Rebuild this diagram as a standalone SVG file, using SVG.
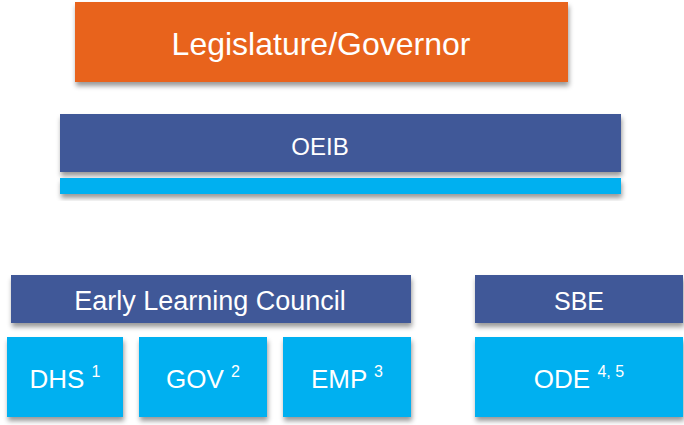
<svg xmlns="http://www.w3.org/2000/svg" width="684" height="425" viewBox="0 0 684 425">
<defs>
<filter id="sh" x="-10%" y="-20%" width="120%" height="160%">
<feDropShadow dx="1" dy="4" stdDeviation="2.5" flood-color="#000" flood-opacity="0.4"/>
</filter>
<style>
.t{font-family:"Liberation Sans",Arial,sans-serif;fill:#fff;text-anchor:middle}
.o{fill:#E8641E}
.d{fill:#3F5898}
.l{fill:#00B0F0}
.sup{font-size:16px}
</style>
</defs>
<rect width="684" height="425" fill="#fff"/>
<g id="legislature">
<rect class="o" x="75" y="2" width="493" height="80" filter="url(#sh)"/>
<text class="t" x="321" y="55" font-size="32">Legislature/Governor</text>
</g>
<g id="oeib">
<rect class="d" x="60" y="114" width="561" height="58" filter="url(#sh)"/>
<rect class="l" x="60" y="178" width="561" height="16" filter="url(#sh)"/>
<text class="t" x="320" y="155" font-size="24">OEIB</text>
</g>
<g id="elc">
<rect class="d" x="11" y="275" width="400" height="48" filter="url(#sh)"/>
<text class="t" x="210" y="310" font-size="27">Early Learning Council</text>
</g>
<g id="sbe">
<rect class="d" x="475" y="275" width="208" height="48" filter="url(#sh)"/>
<text class="t" x="579" y="310" font-size="25">SBE</text>
</g>
<g id="dhs">
<rect class="l" x="7" y="337" width="116" height="80" filter="url(#sh)"/>
<text class="t" x="65" y="388" font-size="26">DHS <tspan class="sup" dy="-11">1</tspan></text>
</g>
<g id="gov">
<rect class="l" x="139" y="337" width="128" height="80" filter="url(#sh)"/>
<text class="t" x="203" y="388" font-size="26">GOV <tspan class="sup" dy="-11">2</tspan></text>
</g>
<g id="emp">
<rect class="l" x="283" y="337" width="128" height="80" filter="url(#sh)"/>
<text class="t" x="347" y="388" font-size="26">EMP <tspan class="sup" dy="-11">3</tspan></text>
</g>
<g id="ode">
<rect class="l" x="475" y="337" width="208" height="80" filter="url(#sh)"/>
<text class="t" x="579" y="388" font-size="26">ODE <tspan class="sup" dy="-11">4, 5</tspan></text>
</g>
<g id="connectors"></g>
</svg>
